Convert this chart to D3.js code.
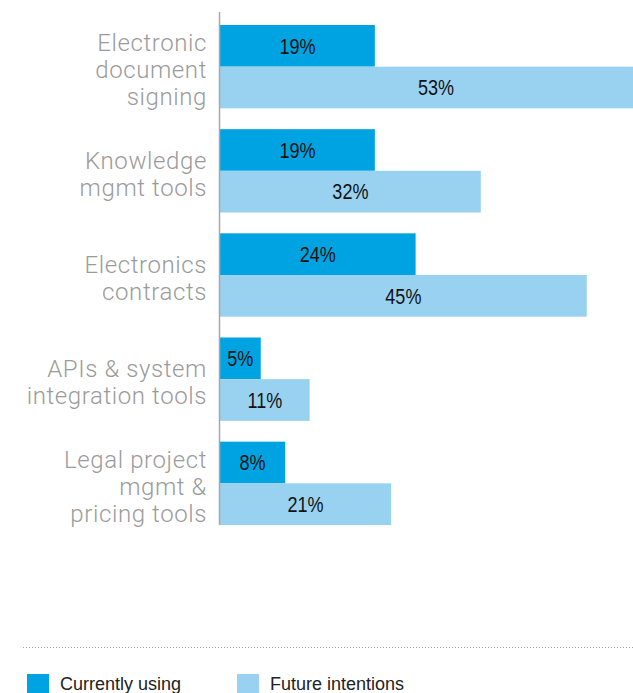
<!DOCTYPE html>
<html>
<head>
<meta charset="utf-8">
<script src="https://cdn.jsdelivr.net/npm/d3@7"></script>
<style>
  html, body { margin: 0; padding: 0; background: #fff; overflow: hidden; }
  svg { display: block; }
</style>
</head>
<body>
<script>
// Technology adoption: share currently using vs. future intentions
const categories = [
  "Electronic document signing",
  "Knowledge mgmt tools",
  "Electronics contracts",
  "APIs & system integration tools",
  "Legal project mgmt & pricing tools"
];
const categoryLines = [
  ["Electronic", "document", "signing"],
  ["Knowledge", "mgmt tools"],
  ["Electronics", "contracts"],
  ["APIs & system", "integration tools"],
  ["Legal project", "mgmt &", "pricing tools"]
];
const seriesNames = ["Currently using", "Future intentions"];
const currentlyUsing = [19, 19, 24, 5, 8];
const futureIntentions = [53, 32, 45, 11, 21];
const seriesColors = ["#00a3e1", "#99d1f0"];

const W = 633, H = 693;
const svg = d3.select("body").append("svg").attr("width", W).attr("height", H);

const x = d3.scaleLinear().domain([0, 100]).range([220, 1035]);
const y = d3.scaleBand().domain(categories).range([25, 525]).paddingInner(0.2).paddingOuter(0);
const ySub = d3.scaleBand().domain(seriesNames).range([0, y.bandwidth()]).padding(0);

const rows = categories.map((c, i) => ({
  category: c,
  lines: categoryLines[i],
  values: [currentlyUsing[i], futureIntentions[i]]
}));

// Bars and value labels
const groups = svg.append("g").selectAll("g.group")
  .data(rows).join("g")
  .attr("class", "group")
  .attr("transform", d => `translate(0,${y(d.category)})`);

const cells = groups.selectAll("g.cell")
  .data(d => d.values.map((v, k) => ({ series: seriesNames[k], value: v, k })))
  .join("g").attr("class", "cell");

cells.append("rect")
  .attr("x", x(0))
  .attr("y", d => ySub(d.series))
  .attr("width", d => x(d.value) - x(0))
  .attr("height", ySub.bandwidth())
  .attr("fill", d => seriesColors[d.k]);

// Condensed-looking value labels (narrowed horizontally)
cells.append("text")
  .attr("transform", d => `translate(${(x(0) + x(d.value)) / 2},${ySub(d.series) + ySub.bandwidth() / 2 + 7.8}) scale(0.82,1)`)
  .attr("text-anchor", "middle")
  .attr("font-family", "'Liberation Sans', Arial, sans-serif")
  .attr("font-size", 22)
  .attr("fill", "#111")
  .text(d => d.value + "%");

// Category labels
const lineGap = 26.7;
const labels = svg.append("g").selectAll("text.cat")
  .data(rows).join("text")
  .attr("class", "cat")
  .attr("text-anchor", "end")
  .attr("font-family", "Roboto, 'Liberation Sans', sans-serif")
  .attr("font-weight", 300)
  .attr("font-size", 24)
  .attr("letter-spacing", 0.6)
  .attr("fill", "#9b9b9b");

labels.each(function(d) {
  const cy = y(d.category) + y.bandwidth() / 2 + 11.5;
  const n = d.lines.length;
  d3.select(this).selectAll("tspan").data(d.lines).join("tspan")
    .attr("x", 207)
    .attr("y", (t, i) => cy + (i - (n - 1) / 2) * lineGap)
    .text(t => t);
});

// Vertical baseline axis
svg.append("line")
  .attr("x1", 219.5).attr("x2", 219.5)
  .attr("y1", 12).attr("y2", y.range()[1])
  .attr("stroke", "#a8a8a8").attr("stroke-width", 1.5);

// Dotted separator
svg.append("line")
  .attr("x1", 23).attr("x2", W)
  .attr("y1", 647.5).attr("y2", 647.5)
  .attr("stroke", "#a0a0a0").attr("stroke-width", 1)
  .attr("stroke-dasharray", "1,2");

// Legend
const legendX = [27, 237];
const legend = svg.append("g").selectAll("g.leg")
  .data(seriesNames).join("g")
  .attr("class", "leg")
  .attr("transform", (d, i) => `translate(${legendX[i]},674)`);

legend.append("rect")
  .attr("width", 22).attr("height", 22)
  .attr("fill", (d, i) => seriesColors[i]);

legend.append("text")
  .attr("x", 33).attr("y", 16)
  .attr("font-family", "'Liberation Sans', Arial, sans-serif")
  .attr("font-size", 18)
  .attr("fill", "#222")
  .text(d => d);
</script>
</body>
</html>
